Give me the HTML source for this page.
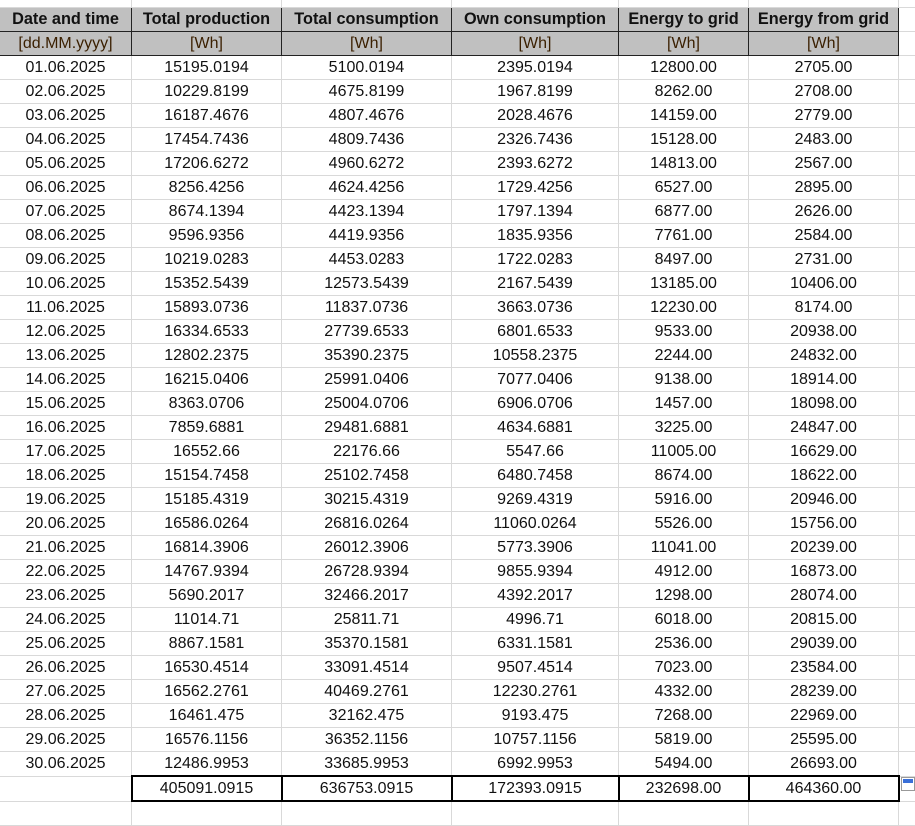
<!DOCTYPE html>
<html><head><meta charset="utf-8"><style>
body{margin:0;width:915px;height:809px;overflow:hidden;background:#fff;font-family:"Liberation Sans",Arial,sans-serif;position:relative}
table{position:absolute;left:-1px;top:-17px;border-collapse:collapse;table-layout:fixed;width:929px}
td{border:1px solid #d9d9d9;padding:0;height:23px;line-height:23px;text-align:center;font-size:16px;color:#111;white-space:nowrap;overflow:hidden}
tr.h1 td.c{background:#c0c0c0;font-weight:bold;border:1px solid #222;border-top-color:#bdbdbd;font-size:16.3px}
tr.h2 td.c{background:#c0c0c0;color:#3a1f00;border:1px solid #222}
tr.t td.c{border:2px solid #000}
</style></head><body>
<table>
<colgroup><col style="width:132px"><col style="width:150px"><col style="width:170px"><col style="width:167px"><col style="width:130px"><col style="width:150px"><col style="width:30px"></colgroup>
<tr><td></td><td></td><td></td><td></td><td></td><td></td><td></td></tr>
<tr class="h1"><td class="c">Date and time</td><td class="c">Total production</td><td class="c">Total consumption</td><td class="c">Own consumption</td><td class="c">Energy to grid</td><td class="c">Energy from grid</td><td></td></tr>
<tr class="h2"><td class="c">[dd.MM.yyyy]</td><td class="c">[Wh]</td><td class="c">[Wh]</td><td class="c">[Wh]</td><td class="c">[Wh]</td><td class="c">[Wh]</td><td></td></tr>
<tr><td>01.06.2025</td><td>15195.0194</td><td>5100.0194</td><td>2395.0194</td><td>12800.00</td><td>2705.00</td><td></td></tr>
<tr><td>02.06.2025</td><td>10229.8199</td><td>4675.8199</td><td>1967.8199</td><td>8262.00</td><td>2708.00</td><td></td></tr>
<tr><td>03.06.2025</td><td>16187.4676</td><td>4807.4676</td><td>2028.4676</td><td>14159.00</td><td>2779.00</td><td></td></tr>
<tr><td>04.06.2025</td><td>17454.7436</td><td>4809.7436</td><td>2326.7436</td><td>15128.00</td><td>2483.00</td><td></td></tr>
<tr><td>05.06.2025</td><td>17206.6272</td><td>4960.6272</td><td>2393.6272</td><td>14813.00</td><td>2567.00</td><td></td></tr>
<tr><td>06.06.2025</td><td>8256.4256</td><td>4624.4256</td><td>1729.4256</td><td>6527.00</td><td>2895.00</td><td></td></tr>
<tr><td>07.06.2025</td><td>8674.1394</td><td>4423.1394</td><td>1797.1394</td><td>6877.00</td><td>2626.00</td><td></td></tr>
<tr><td>08.06.2025</td><td>9596.9356</td><td>4419.9356</td><td>1835.9356</td><td>7761.00</td><td>2584.00</td><td></td></tr>
<tr><td>09.06.2025</td><td>10219.0283</td><td>4453.0283</td><td>1722.0283</td><td>8497.00</td><td>2731.00</td><td></td></tr>
<tr><td>10.06.2025</td><td>15352.5439</td><td>12573.5439</td><td>2167.5439</td><td>13185.00</td><td>10406.00</td><td></td></tr>
<tr><td>11.06.2025</td><td>15893.0736</td><td>11837.0736</td><td>3663.0736</td><td>12230.00</td><td>8174.00</td><td></td></tr>
<tr><td>12.06.2025</td><td>16334.6533</td><td>27739.6533</td><td>6801.6533</td><td>9533.00</td><td>20938.00</td><td></td></tr>
<tr><td>13.06.2025</td><td>12802.2375</td><td>35390.2375</td><td>10558.2375</td><td>2244.00</td><td>24832.00</td><td></td></tr>
<tr><td>14.06.2025</td><td>16215.0406</td><td>25991.0406</td><td>7077.0406</td><td>9138.00</td><td>18914.00</td><td></td></tr>
<tr><td>15.06.2025</td><td>8363.0706</td><td>25004.0706</td><td>6906.0706</td><td>1457.00</td><td>18098.00</td><td></td></tr>
<tr><td>16.06.2025</td><td>7859.6881</td><td>29481.6881</td><td>4634.6881</td><td>3225.00</td><td>24847.00</td><td></td></tr>
<tr><td>17.06.2025</td><td>16552.66</td><td>22176.66</td><td>5547.66</td><td>11005.00</td><td>16629.00</td><td></td></tr>
<tr><td>18.06.2025</td><td>15154.7458</td><td>25102.7458</td><td>6480.7458</td><td>8674.00</td><td>18622.00</td><td></td></tr>
<tr><td>19.06.2025</td><td>15185.4319</td><td>30215.4319</td><td>9269.4319</td><td>5916.00</td><td>20946.00</td><td></td></tr>
<tr><td>20.06.2025</td><td>16586.0264</td><td>26816.0264</td><td>11060.0264</td><td>5526.00</td><td>15756.00</td><td></td></tr>
<tr><td>21.06.2025</td><td>16814.3906</td><td>26012.3906</td><td>5773.3906</td><td>11041.00</td><td>20239.00</td><td></td></tr>
<tr><td>22.06.2025</td><td>14767.9394</td><td>26728.9394</td><td>9855.9394</td><td>4912.00</td><td>16873.00</td><td></td></tr>
<tr><td>23.06.2025</td><td>5690.2017</td><td>32466.2017</td><td>4392.2017</td><td>1298.00</td><td>28074.00</td><td></td></tr>
<tr><td>24.06.2025</td><td>11014.71</td><td>25811.71</td><td>4996.71</td><td>6018.00</td><td>20815.00</td><td></td></tr>
<tr><td>25.06.2025</td><td>8867.1581</td><td>35370.1581</td><td>6331.1581</td><td>2536.00</td><td>29039.00</td><td></td></tr>
<tr><td>26.06.2025</td><td>16530.4514</td><td>33091.4514</td><td>9507.4514</td><td>7023.00</td><td>23584.00</td><td></td></tr>
<tr><td>27.06.2025</td><td>16562.2761</td><td>40469.2761</td><td>12230.2761</td><td>4332.00</td><td>28239.00</td><td></td></tr>
<tr><td>28.06.2025</td><td>16461.475</td><td>32162.475</td><td>9193.475</td><td>7268.00</td><td>22969.00</td><td></td></tr>
<tr><td>29.06.2025</td><td>16576.1156</td><td>36352.1156</td><td>10757.1156</td><td>5819.00</td><td>25595.00</td><td></td></tr>
<tr><td>30.06.2025</td><td>12486.9953</td><td>33685.9953</td><td>6992.9953</td><td>5494.00</td><td>26693.00</td><td></td></tr>
<tr class="t"><td></td><td class="c">405091.0915</td><td class="c">636753.0915</td><td class="c">172393.0915</td><td class="c">232698.00</td><td class="c">464360.00</td><td></td></tr>
<tr><td></td><td></td><td></td><td></td><td></td><td></td><td></td></tr>
</table>
<div style="position:absolute;left:901px;top:777px;width:12px;height:12px;border:1px solid #999;background:#fff"><div style="margin:1px;height:4px;background:#3a6fd8"></div></div>
</body></html>
